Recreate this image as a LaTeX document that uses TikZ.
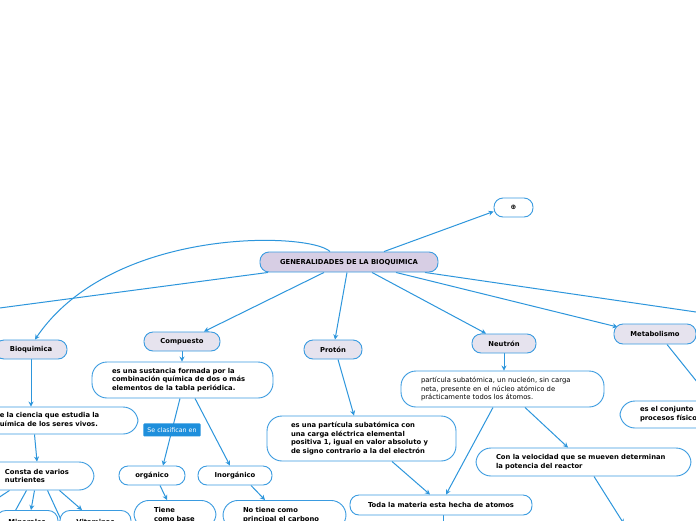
\documentclass[tikz,border=0pt]{standalone}
\usepackage{fontspec}
\setmainfont{DejaVu Sans}
\usetikzlibrary{arrows.meta,backgrounds}
\definecolor{lineblue}{HTML}{2D96DC}
\definecolor{nodeblue}{HTML}{3A9BE0}
\definecolor{hubfill}{HTML}{D7CEE4}
\definecolor{topicfill}{HTML}{E6E3EE}
\definecolor{labelblue}{HTML}{1E8FDC}
\newcommand{\fsz}{\fontsize{6.8}{8.8}\selectfont}
\newcommand{\fsl}{\fontsize{6.3}{7.5}\selectfont}
\tikzset{
  basebox/.style={draw=nodeblue, line width=0.9pt, rounded corners=9pt, font=\fsz\bfseries, inner sep=0pt, align=center},
  hub/.style={basebox, fill=hubfill},
  topic/.style={basebox, fill=topicfill},
  leaf/.style={basebox, fill=white},
  desc/.style={draw=nodeblue, line width=0.9pt, fill=white, rounded corners=15pt, font=\fsz\bfseries, inner xsep=20pt, inner ysep=0pt, align=left},
  conn/.style={draw=lineblue, line width=1pt, -{Stealth[length=5pt,width=5pt]}},
  plainline/.style={draw=lineblue, line width=1pt},
  lbl/.style={fill=labelblue, text=white, font=\fsl, rounded corners=1pt, inner xsep=4pt, inner ysep=3pt, minimum height=13pt},
}
\begin{document}
\begin{tikzpicture}[x=1pt,y=1pt]
\useasboundingbox (0,0) rectangle (696,-520);

% main and topic nodes
\node[hub, minimum width=178pt, minimum height=20pt] (gen) at (349,-262) {GENERALIDADES DE LA BIOQUIMICA};
\node[leaf, minimum width=39pt, minimum height=19pt] (top) at (513.5,-207.5) {⊕};
\node[topic, minimum width=72pt, minimum height=19pt] (bio) at (31,-349.5) {Bioquimica};
\node[topic, minimum width=76pt, minimum height=19pt] (comp) at (182,-341.5) {Compuesto};
\node[topic, minimum width=58pt, minimum height=19pt] (prot) at (333,-349.5) {Protón};
\node[topic, minimum width=64pt, minimum height=19pt] (neut) at (504,-343.5) {Neutrón};
\node[topic, minimum width=82pt, minimum height=20pt] (meta) at (655,-334) {Metabolismo};

% descriptions
\node[desc, text width=123pt, minimum height=27pt] (biodesc) at (56.5,-420.5) {de la ciencia que estudia la\\química de los seres vivos.};
\node[desc, text width=141pt, minimum height=36pt] (compdesc) at (182.5,-380) {es una sustancia formada por la\\combinación química de dos o más\\elementos de la tabla periódica.};
\node[desc, inner xsep=24pt, text width=141pt, minimum height=45pt] (protdesc) at (361.5,-438.5) {es una partícula subatómica con\\una carga eléctrica elemental\\positiva 1, igual en valor absoluto y\\de signo contrario a la del electrón};
\node[desc, font=\fsz, text width=163pt, minimum height=36pt] (neutdesc) at (502.5,-389) {partícula subatómica, un nucleón, sin carga\\neta, presente en el núcleo atómico de\\prácticamente todos los átomos.};
\node[desc, text width=175pt, minimum height=28pt] (vel) at (583.5,-462) {Con la velocidad que se mueven determinan\\la potencia del reactor};
\node[leaf, minimum width=182pt, minimum height=20pt] (toda) at (441,-505) {Toda la materia esta hecha de atomos};
\node[desc, text width=120pt, minimum height=27pt] (metadesc) at (700,-414.5) {es el conjunto de\\procesos físicos};
\node[desc, text width=69pt, minimum height=28pt] (consta) at (39.5,-476) {Consta de varios\\nutrientes};

\node[leaf, minimum width=66pt, minimum height=19pt] (org) at (152,-475.5) {orgánico};
\node[leaf, minimum width=74pt, minimum height=19pt] (inorg) at (235,-475.5) {Inorgánico};
\node[desc, anchor=north, inner ysep=7pt, text width=42pt] (tiene) at (175,-500) {Tiene\\como base};
\node[desc, anchor=north, inner ysep=7pt, text width=83pt] (notiene) at (284.5,-500) {No tiene como\\principal el carbono};
\node[desc, anchor=north, inner xsep=0pt, inner ysep=8.5pt, text width=62pt, align=center, rounded corners=10pt] (mine) at (27,-510) {Minerales};
\node[desc, anchor=north, inner xsep=0pt, inner ysep=8.5pt, text width=71pt, align=center, rounded corners=10pt] (vita) at (95.5,-510) {Vitaminas};

\coordinate (offL) at (-20,-310.6);
\coordinate (offR) at (720,-315.5);
\coordinate (offV) at (624,-524);
\coordinate (offT) at (443,-532);
\coordinate (offC1) at (-14,-506);
\coordinate (offC2) at (8,-524);
\coordinate (offC4) at (63,-524);

\begin{pgfonlayer}{background}
\fill[white] (0,0) rectangle (696,-520);
% from the main node
\draw[conn] ([xshift=35pt]gen.north) -- ([yshift=-4pt]top.west);
\draw[conn] ([xshift=-19pt]gen.north) .. controls (310,-232) and (112,-226) .. ([xshift=4pt]bio.north);
\draw[plainline] ([xshift=-81pt]gen.south) -- (offL);
\draw[conn] ([xshift=-25pt]gen.south) -- ([xshift=22pt]comp.north);
\draw[conn] ([xshift=-2pt]gen.south) -- ([xshift=2pt]prot.north);
\draw[conn] ([xshift=23pt]gen.south) -- ([xshift=-18pt]neut.north);
\draw[conn] ([xshift=47pt]gen.south) -- ([shift={(4pt,7pt)}]meta.west);
\draw[plainline] ([xshift=76pt]gen.south) -- (offR);
% Bioquimica branch
\draw[conn] (bio.south) -- (bio.south |- biodesc.north);
\draw[conn] ([xshift=-22pt]biodesc.south) -- ([xshift=-2.5pt]consta.north);
\draw[conn] ([xshift=-30pt]consta.south) -- (offC1);
\draw[conn] ([xshift=-13pt]consta.south) -- (offC2);
\draw[conn] ([xshift=-5pt]consta.south) -- ([xshift=4pt]mine.north);
\draw[conn] ([xshift=8pt]consta.south) -- (offC4);
\draw[conn] ([xshift=20pt]consta.south) -- ([xshift=-13.5pt]vita.north);
% Compuesto branch
\draw[conn] (comp.south) -- (comp.south |- compdesc.north);
\draw[conn] ([xshift=-2.5pt]compdesc.south) -- node[lbl, pos=0.47] (clas) {Se clasifican en} ([xshift=11pt]org.north);
\draw[conn] ([xshift=12.5pt]compdesc.south) -- ([xshift=-5pt]inorg.north);
\draw[conn] ([xshift=8pt]org.south) -- ([xshift=-8pt]tiene.north);
\draw[conn] ([xshift=16pt]inorg.south) -- ([xshift=-19.5pt]notiene.north);
% Proton branch
\draw[conn] ([xshift=5pt]prot.south) -- ([xshift=-7.5pt]protdesc.north);
\draw[conn] ([xshift=30.5pt]protdesc.south) -- ([xshift=-11pt]toda.north);
% Neutron branch
\draw[conn] (neut.south) -- (neut.south |- neutdesc.north);
\draw[conn] ([xshift=-9.5pt]neutdesc.south) -- ([xshift=5pt]toda.north);
\draw[conn] ([xshift=22.5pt]neutdesc.south) -- ([xshift=-15.5pt]vel.north);
\draw[conn] ([xshift=10.5pt]vel.south) -- (offV);
\draw[conn] ([xshift=2pt]toda.south) -- (offT);
% Metabolismo branch
\draw[conn] ([xshift=12pt]meta.south) -- ([xshift=12pt]metadesc.north);
\end{pgfonlayer}
\end{tikzpicture}
\end{document}
